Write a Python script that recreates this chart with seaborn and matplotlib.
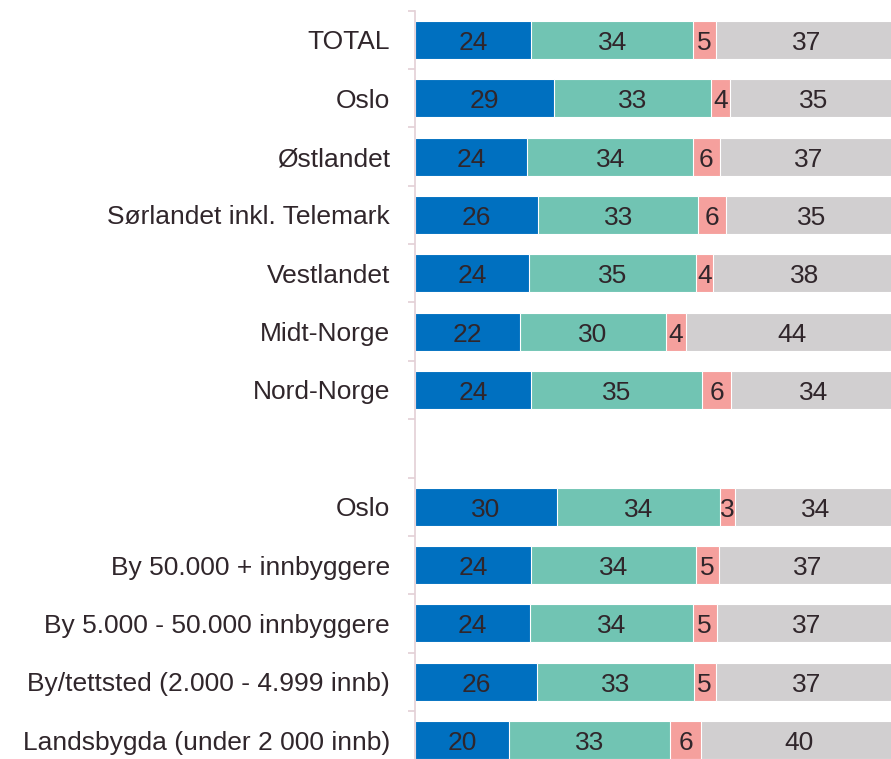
import numpy as np
import pandas as pd
import matplotlib.pyplot as plt
import seaborn as sns

# row labels, top to bottom (an empty row separates the two groups)
region_labels = ["TOTAL", "Oslo", "Østlandet", "Sørlandet inkl. Telemark",
                 "Vestlandet", "Midt-Norge", "Nord-Norge"]
size_labels = ["Oslo", "By 50.000 + innbyggere", "By 5.000 - 50.000 innbyggere",
               "By/tettsted (2.000 - 4.999 innb)", "Landsbygda (under 2 000 innb)"]

# segment shares (%), regions first then place size
blue_vals = [24.1, 28.9, 23.3, 25.6, 23.6, 21.8, 24.1, 29.5, 24.1, 23.8, 25.3, 19.5]
green_vals = [33.6, 32.6, 34.4, 33.1, 34.6, 30.2, 35.5, 33.7, 34.1, 33.8, 32.5, 33.5]
pink_vals = [4.7, 3.8, 5.5, 5.9, 3.6, 4.3, 5.9, 3.1, 4.8, 5.0, 4.6, 6.4]
grey_vals = [37.6, 34.7, 36.8, 35.4, 38.2, 43.7, 34.5, 33.7, 37.0, 37.4, 37.6, 40.6]

# numbers printed in the segments
blue_text = [24, 29, 24, 26, 24, 22, 24, 30, 24, 24, 26, 20]
green_text = [34, 33, 34, 33, 35, 30, 35, 34, 34, 34, 33, 33]
pink_text = [5, 4, 6, 6, 4, 4, 6, 3, 5, 5, 5, 6]
grey_text = [37, 35, 37, 35, 38, 44, 34, 34, 37, 37, 37, 40]

colors = ["#0070C0", "#71C4B3", "#F5A09D", "#D1CFD0"]
text_color = "#30262B"
spine_color = "#E3D0D6"
font = "Liberation Sans"

row_ids = ["r%d" % i for i in range(len(blue_vals))]
order = row_ids[:len(region_labels)] + ["gap"] + row_ids[len(region_labels):]
tick_labels = region_labels + [""] + size_labels

vals = np.array([blue_vals, green_vals, pink_vals, grey_vals])
cum = vals.cumsum(axis=0)
df = pd.DataFrame({"row": row_ids, "c0": cum[0], "c1": cum[1], "c2": cum[2], "c3": cum[3]})

fig = plt.figure(figsize=(8.91, 7.59), dpi=100)
ax = fig.add_axes([415 / 891, -10.2 / 759, 482 / 891, 758.4 / 759])

# stacked bars drawn as overlapping cumulative bars, widest first
for col, c in zip(["c3", "c2", "c1", "c0"], colors[::-1]):
    sns.barplot(data=df, x=col, y="row", order=order, color=c, saturation=1,
                width=0.65, errorbar=None, edgecolor="white", linewidth=0.8, ax=ax)

texts = [blue_text, green_text, pink_text, grey_text]
pos = {r: order.index(r) for r in row_ids}
for k in range(4):
    for i, r in enumerate(row_ids):
        center = cum[k][i] - vals[k][i] / 2
        # baseline set so the digits sit centred in the bar
        ax.text(center, pos[r] + 0.17, str(texts[k][i]), ha="center", va="baseline",
                fontsize=19, color=text_color, family=font)

ax.set_xlim(0, 100)
ax.set_ylim(len(order) - 0.5, -0.5)
ax.set_yticks(range(len(order)))
ax.set_yticklabels(tick_labels, fontsize=19, color=text_color, family=font)
ax.set_yticks(np.arange(-0.5, len(order), 1), minor=True)
ax.tick_params(axis="y", which="major", length=0, pad=18)
ax.tick_params(axis="y", which="minor", length=5, width=1.2, color=spine_color)
ax.set_xlabel("")
ax.set_ylabel("")
ax.xaxis.set_visible(False)
for s in ["top", "right", "bottom"]:
    ax.spines[s].set_visible(False)
ax.spines["left"].set_color(spine_color)
ax.spines["left"].set_linewidth(1.2)

fig.savefig("out.png", dpi=100)
